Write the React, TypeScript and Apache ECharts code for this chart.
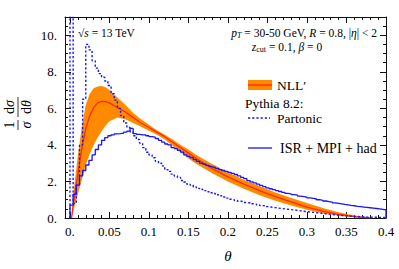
import React, { useEffect, useRef } from 'react';
import * as echarts from 'echarts';

const binWidth = 0.004;

const partonic = [
  14, 0.8, 1.8, 4.0, 6.5, 9.5, 9.2, 8.6, 8.2, 7.9,
  7.7, 7.5, 7.25, 6.8, 6.45, 6.0, 5.6, 5.2, 4.95, 4.7,
  4.5, 4.3, 4.1, 3.85, 3.6, 3.45, 3.3, 3.1, 3.0, 2.85,
  2.65, 2.55, 2.4, 2.3, 2.22, 2.05, 1.97, 1.85, 1.8, 1.7,
  1.62, 1.57, 1.5, 1.44, 1.38, 1.34, 1.27, 1.22, 1.15, 1.09,
  1.03, 1.0, 0.96, 0.92, 0.89, 0.85, 0.82, 0.78, 0.76, 0.72,
  0.68, 0.66, 0.62, 0.59, 0.57, 0.54, 0.52, 0.5, 0.48, 0.46,
  0.44, 0.42, 0.39, 0.37, 0.35, 0.33, 0.31, 0.29, 0.27, 0.25,
  0.23, 0.21, 0.19, 0.17, 0.15, 0.14, 0.12, 0.11, 0.1, 0.09,
  0.08, 0.07, 0.06, 0.05, 0.05, 0.04, 0.04, 0.03, 0.03, 0.03,
];

const isrMpiHad = [
  0.7, 1.3, 1.8, 2.3, 2.6, 2.9, 3.15, 3.45, 3.75, 4.0,
  4.25, 4.4, 4.5, 4.55, 4.6, 4.62, 4.65, 4.7, 4.75, 4.9,
  4.62, 4.58, 4.55, 4.55, 4.5, 4.45, 4.42, 4.35, 4.25, 4.15,
  4.05, 4.0, 3.85, 3.8, 3.7, 3.6, 3.45, 3.37, 3.3, 3.2,
  3.1, 3.0, 2.95, 2.88, 2.82, 2.78, 2.72, 2.65, 2.6, 2.55,
  2.5, 2.44, 2.38, 2.3, 2.22, 2.15, 2.05, 1.98, 1.92, 1.85,
  1.78, 1.72, 1.65, 1.6, 1.55, 1.5, 1.45, 1.4, 1.35, 1.32,
  1.28, 1.25, 1.2, 1.17, 1.14, 1.1, 1.07, 1.04, 1.0, 0.97,
  0.93, 0.9, 0.87, 0.83, 0.8, 0.77, 0.74, 0.72, 0.69, 0.67,
  0.64, 0.62, 0.6, 0.58, 0.56, 0.54, 0.52, 0.5, 0.47, 0.44,
];

const nllTheta = [
  0.002, 0.005, 0.01, 0.015, 0.02, 0.025, 0.03, 0.035, 0.04, 0.045,
  0.05, 0.06, 0.07, 0.08, 0.09, 0.1, 0.11, 0.12, 0.13, 0.14,
  0.15, 0.16, 0.18, 0.2, 0.22, 0.24, 0.26, 0.28, 0.3, 0.32,
  0.34, 0.36, 0.37, 0.38,
];
const nllCentral = [
  0, 1.0, 2.4, 3.8, 4.9, 5.6, 6.05, 6.3, 6.38, 6.37,
  6.3, 6.05, 5.8, 5.5, 5.2, 4.95, 4.7, 4.45, 4.15, 3.85,
  3.55, 3.25, 2.7, 2.25, 1.85, 1.5, 1.17, 0.88, 0.6, 0.37,
  0.2, 0.08, 0.04, 0.01,
];
const nllUpper = [
  0, 1.6, 3.4, 5.0, 6.2, 6.8, 7.1, 7.2, 7.22, 7.15,
  7.0, 6.6, 6.2, 5.75, 5.4, 5.1, 4.8, 4.55, 4.3, 4.0,
  3.75, 3.45, 2.95, 2.5, 2.1, 1.75, 1.4, 1.1, 0.82, 0.55,
  0.32, 0.14, 0.07, 0.02,
];
const nllLower = [
  0, 0.5, 1.3, 2.1, 2.9, 3.5, 4.0, 4.4, 4.75, 5.05,
  5.3, 5.5, 5.4, 5.2, 5.0, 4.78, 4.55, 4.3, 3.95, 3.6,
  3.25, 2.95, 2.45, 2.0, 1.6, 1.25, 0.95, 0.68, 0.45, 0.25,
  0.12, 0.04, 0.02, 0,
];

const xTickValues = [0, 0.05, 0.1, 0.15, 0.2, 0.25, 0.3, 0.35, 0.4];
const xTickLabels = ['0.', '0.05', '0.1', '0.15', '0.2', '0.25', '0.3', '0.35', '0.4'];
const yTickValues = [0, 2, 4, 6, 8, 10];
const yTickLabels = ['0.', '2.', '4.', '6.', '8.', '10.'];

const FONT = 'Liberation Serif';
const ORANGE = '#ff8a00';
const RED = '#ff2a00';
const BLUE = '#1515ff';
const X_MIN = -0.0063;
const X_MAX = 0.4;
const Y_MIN = 0;
const Y_MAX = 11;

function steps(vals: number[]): number[][] {
  const pts: number[][] = [[0, 0]];
  vals.forEach((v, i) => {
    pts.push([+(i * binWidth).toFixed(4), v]);
    pts.push([+((i + 1) * binWidth).toFixed(4), v]);
  });
  pts.push([+(vals.length * binWidth).toFixed(4), 0]);
  return pts;
}

const xMinor: number[] = [];
for (let k = 1; k < 40; k++) if (k % 5) xMinor.push(k / 100);
const yMinor: number[] = [];
for (let k = 1; k <= 21; k++) if (k % 4) yMinor.push(k * 0.5);

function labelFor(values: number[], labels: string[]) {
  return (v: number) => {
    let best = 0;
    values.forEach((t, i) => {
      if (Math.abs(t - v) < Math.abs(values[best] - v)) best = i;
    });
    return labels[best];
  };
}

function xAxis(position: string, ticks: number[], len: number, line: boolean, labels: boolean) {
  return {
    type: 'value', position, min: X_MIN, max: X_MAX,
    axisLine: { show: line, onZero: false, lineStyle: { color: '#111', width: 1 } },
    splitLine: { show: false },
    axisTick: { show: true, inside: true, length: len, customValues: ticks, lineStyle: { color: '#111', width: 1 } },
    axisLabel: labels
      ? { show: true, customValues: xTickValues, formatter: labelFor(xTickValues, xTickLabels), margin: 7,
          color: '#000', fontSize: 13, fontFamily: FONT }
      : { show: false },
  };
}
function yAxis(position: string, ticks: number[], len: number, line: boolean, labels: boolean) {
  return {
    type: 'value', position, min: Y_MIN, max: Y_MAX,
    axisLine: { show: line, onZero: false, lineStyle: { color: '#111', width: 1 } },
    splitLine: { show: false },
    axisTick: { show: true, inside: true, length: len, customValues: ticks, lineStyle: { color: '#111', width: 1 } },
    axisLabel: labels
      ? { show: true, customValues: yTickValues, formatter: labelFor(yTickValues, yTickLabels), margin: 8,
          color: '#000', fontSize: 13, fontFamily: FONT }
      : { show: false },
  };
}

function txt(x: number, y: number, text: string, opts: any = {}) {
  const align = opts.align || 'left';
  const size = opts.fontSize || 12;
  const fs = opts.fontStyle || 'normal';
  return {
    type: 'text', x, y, silent: true,
    style: {
      text, fill: '#000', fontSize: size, fontFamily: FONT, fontStyle: fs,
      font: `${fs} normal ${size}px ${FONT}`,
      align, textAlign: align, verticalAlign: 'middle', textVerticalAlign: 'middle',
      rich: opts.rich,
    },
  };
}

export default function App() {
  const ref = useRef<HTMLDivElement>(null);
  useEffect(() => {
    if (!ref.current) return;
    const chart = echarts.init(ref.current, null, { renderer: 'svg' });
    const italic = { fontStyle: 'italic', fontFamily: FONT };
    const rich10 = {
      i: { ...italic, fontSize: 11.5 },
      s: { fontSize: 8, fontFamily: FONT, padding: [5, 0, 0, 0] },
      si: { fontSize: 8, fontFamily: FONT, fontStyle: 'italic', padding: [5, 0, 0, 0] },
    };
    const richPlus = {
      t: { fontSize: 14, fontFamily: FONT },
      p: { fontSize: 14, fontFamily: FONT, padding: [0, 3.5, 0, 3.5] },
    };
    const bandData = nllTheta.map((x, i) => [x, nllLower[i], nllUpper[i]]);
    const option: any = {
      animation: false,
      textStyle: { fontFamily: FONT },
      grid: { left: 65, right: 13, top: 17, bottom: 51, outerBoundsMode: 'none' },
      xAxis: [
        xAxis('bottom', xTickValues, 6, true, true),
        xAxis('bottom', xMinor, 3, false, false),
        xAxis('top', xTickValues, 6, true, false),
        xAxis('top', xMinor, 3, false, false),
      ],
      yAxis: [
        yAxis('left', yTickValues, 6, true, true),
        yAxis('left', yMinor, 3, false, false),
        yAxis('right', yTickValues, 6, true, false),
        yAxis('right', yMinor, 3, false, false),
      ],
      series: [
        {
          type: 'custom', name: 'NLL band', silent: true, clip: true,
          data: bandData,
          encode: { x: 0, y: [1, 2] },
          renderItem: (params: any, api: any) => {
            if (params.dataIndex !== 0) return null;
            const upper = bandData.map((d) => api.coord([d[0], d[2]]));
            const lower = bandData.map((d) => api.coord([d[0], d[1]])).reverse();
            return {
              type: 'polygon',
              shape: { points: upper.concat(lower) },
              style: { fill: ORANGE, stroke: 'none' },
            };
          },
        },
        {
          type: 'line', name: "NLL'", symbol: 'none', silent: true,
          data: nllTheta.map((x, i) => [x, nllCentral[i]]),
          lineStyle: { color: RED, width: 1.3 },
        },
        {
          type: 'line', name: 'Partonic', symbol: 'none', silent: true,
          data: steps(partonic),
          lineStyle: { color: BLUE, width: 1.4, type: [2.2, 2] },
        },
        {
          type: 'line', name: 'ISR+MPI+had', symbol: 'none', silent: true,
          data: steps(isrMpiHad),
          lineStyle: { color: BLUE, width: 1.3 },
        },
      ],
      graphic: [
        txt(78, 33, '√{i|s} = 13 TeV', { fontSize: 11.5, rich: rich10 }),
        txt(377, 33, '{i|p}{si|T} = 30-50 GeV, {i|R} = 0.8, |{i|η}| < 2', { fontSize: 11.5, align: 'right', rich: rich10 }),
        txt(287, 47, '{i|z}{s|cut} = 0.1, {i|β} = 0', { fontSize: 11.5, align: 'center', rich: rich10 }),
        { type: 'rect', silent: true, shape: { x: 248, y: 80, width: 24, height: 10 }, style: { fill: ORANGE } },
        { type: 'line', silent: true, shape: { x1: 248, y1: 85, x2: 272, y2: 85 }, style: { stroke: RED, lineWidth: 1.3 } },
        txt(277, 85, 'NLL′', { fontSize: 13.5 }),
        txt(245, 103, 'Pythia 8.2:', { fontSize: 13.5 }),
        { type: 'line', silent: true, shape: { x1: 248, y1: 118, x2: 270, y2: 118 }, style: { stroke: BLUE, lineWidth: 1.3, lineDash: [2.2, 2] } },
        txt(277, 118, 'Partonic', { fontSize: 13.5 }),
        { type: 'line', silent: true, shape: { x1: 248, y1: 148, x2: 272, y2: 148 }, style: { stroke: BLUE, lineWidth: 1.3 } },
        txt(280, 148, '{t|ISR}{p|+}{t|MPI}{p|+}{t|had}', { fontSize: 14, rich: richPlus }),
        txt(228, 256, 'θ', { fontSize: 15, fontStyle: 'italic', align: 'center' }),
        {
          type: 'group', x: 18, y: 113, rotation: Math.PI / 2, silent: true,
          children: [
            txt(-12, -9, '1', { fontSize: 14, align: 'center' }),
            { type: 'line', shape: { x1: -17, y1: 0, x2: -7, y2: 0 }, style: { stroke: '#000', lineWidth: 0.8 } },
            txt(-12, 8, 'σ', { fontSize: 14, fontStyle: 'italic', align: 'center' }),
            txt(6, -9, 'd{i|σ}', { fontSize: 14, align: 'center', rich: { i: { ...italic, fontSize: 14 } } }),
            { type: 'line', shape: { x1: -4, y1: 0, x2: 16, y2: 0 }, style: { stroke: '#000', lineWidth: 0.8 } },
            txt(6, 8, 'd{i|θ}', { fontSize: 14, align: 'center', rich: { i: { ...italic, fontSize: 14 } } }),
          ],
        },
      ],
    };
    chart.setOption(option);
    return () => chart.dispose();
  }, []);
  return <div ref={ref} style={{ position: 'fixed', left: 0, top: 0, width: 399, height: 269, background: '#fff' }} />;
}
